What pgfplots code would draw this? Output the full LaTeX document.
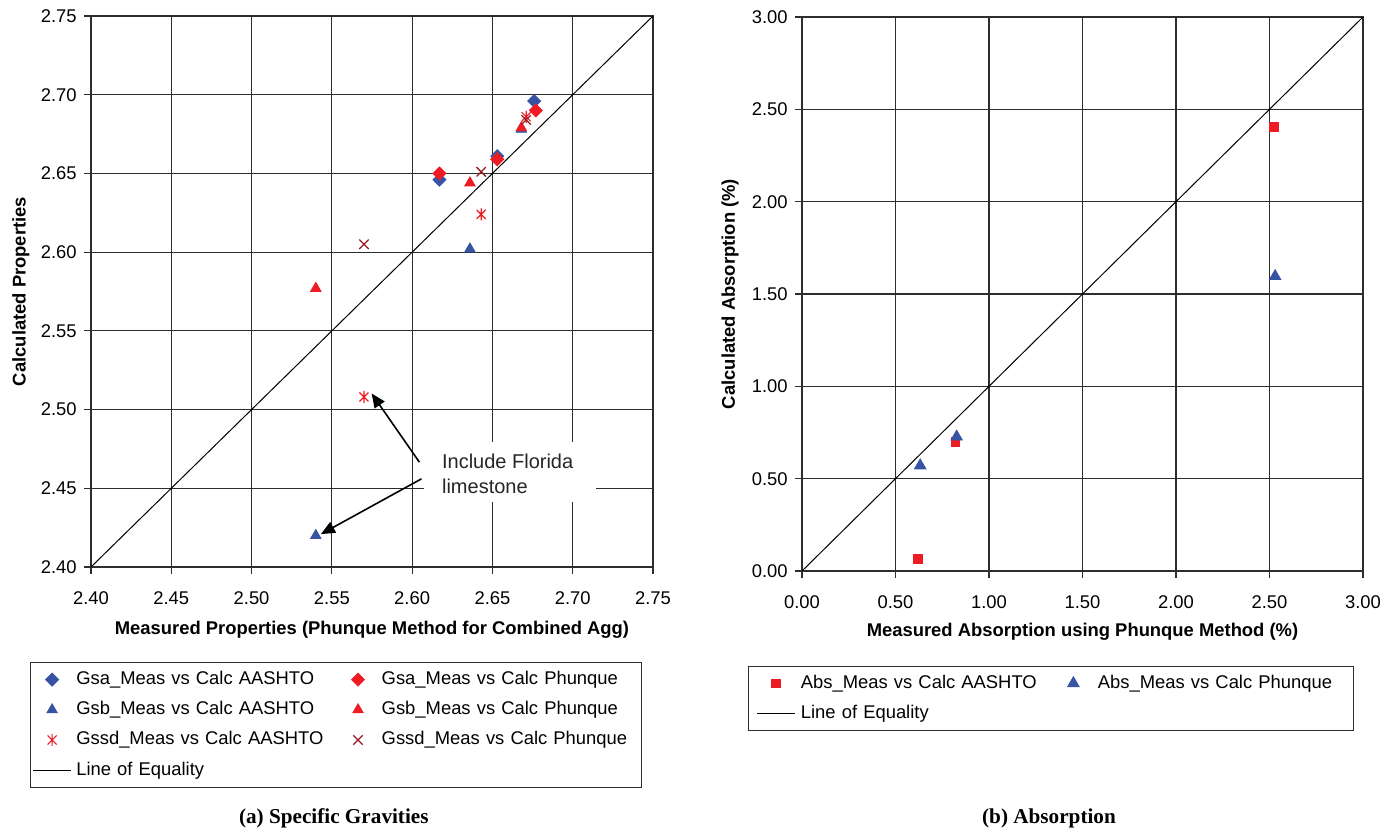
\documentclass[border=0pt]{standalone}
\usepackage{pgfplots}
\pgfplotsset{compat=1.18}
\usepackage{fontspec}
\setmainfont{Liberation Sans}
\newfontfamily\capfont{Liberation Serif}
\usetikzlibrary{arrows.meta}
\definecolor{xblue}{RGB}{57,83,164}
\definecolor{xred}{RGB}{237,28,36}
\definecolor{xdred}{RGB}{150,25,30}
\definecolor{gridc}{RGB}{45,45,45}
\pgfdeclareplotmark{xstar}{%
  \pgfpathmoveto{\pgfqpoint{0pt}{-\pgfplotmarksize}}%
  \pgfpathlineto{\pgfqpoint{0pt}{\pgfplotmarksize}}%
  \pgfpathmoveto{\pgfqpoint{-0.75\pgfplotmarksize}{-0.75\pgfplotmarksize}}%
  \pgfpathlineto{\pgfqpoint{0.75\pgfplotmarksize}{0.75\pgfplotmarksize}}%
  \pgfpathmoveto{\pgfqpoint{-0.75\pgfplotmarksize}{0.75\pgfplotmarksize}}%
  \pgfpathlineto{\pgfqpoint{0.75\pgfplotmarksize}{-0.75\pgfplotmarksize}}%
  \pgfusepathqstroke}
\pgfplotsset{
  excel/.style={
    scale only axis,
    anchor=south west,
    axis line style={gridc, line width=0.6pt},
    grid=major,
    major grid style={gridc, line width=0.6pt},
    tick align=outside,
    xtick pos=left, ytick pos=left,
    major tick length=3.5pt,
    tick style={gridc, line width=0.6pt},
    tick label style={font=\fontsize{9.2}{11}\selectfont},
    xticklabel style={anchor=north, inner sep=0pt},
    xticklabel shift=8.5pt,
    yticklabel style={anchor=east, inner sep=0pt},
    yticklabel shift=3.5pt,
    label style={font=\bfseries\fontsize{9.2}{11}\selectfont},
    legend columns=2,
    legend cell align=left,
    legend image code/.code={\path[draw=none, fill=none] (0pt,-3pt) rectangle (19pt,3pt);
      \draw[mark repeat=2,mark phase=2,##1] plot coordinates {(0pt,0pt) (9.5pt,0pt) (19pt,0pt)};},
  },
}
\begin{document}
\begin{tikzpicture}
\useasboundingbox (0,0) rectangle (699pt,415.5pt);
% ---------------- (a) Specific Gravities ----------------
\begin{axis}[excel, at={(45.5pt,132pt)}, width=281pt, height=275.5pt,
  xmin=2.4, xmax=2.75, ymin=2.4, ymax=2.75,
  xtick={2.4,2.45,2.5,2.55,2.6,2.65,2.7,2.75},
  xticklabels={2.40,2.45,2.50,2.55,2.60,2.65,2.70,2.75},
  ytick={2.4,2.45,2.5,2.55,2.6,2.65,2.7,2.75},
  yticklabels={2.40,2.45,2.50,2.55,2.60,2.65,2.70,2.75},
  xlabel={Measured Properties (Phunque Method for Combined Agg)},
  ylabel={Calculated Properties},
  xlabel style={at={(axis description cs:0.5,-0.1143)}, anchor=center},
  ylabel style={at={(axis description cs:-0.1246,0.5)}, anchor=center},
  legend style={at={(-0.1085,-0.1724)}, anchor=north west, draw=gridc, line width=0.6pt, fill=white,
    inner xsep=1pt, inner ysep=4pt, row sep=6.1pt, column sep=2.35pt,
    font=\fontsize{9.2}{11}\selectfont,
    nodes={inner sep=0pt, text height=7pt, text depth=2pt, text width=129pt}},
]
\addplot[only marks, mark=square*, mark size=2.3pt, color=xblue, mark options={rotate=45, line width=0.4pt}]
  coordinates {(2.617,2.646) (2.653,2.661) (2.676,2.696)};
\addlegendentry{Gsa\_Meas vs Calc AASHTO}
\addplot[only marks, mark=square*, mark size=2.3pt, color=xred, mark options={rotate=45, line width=0.4pt}]
  coordinates {(2.617,2.650) (2.653,2.659) (2.677,2.690)};
\addlegendentry{Gsa\_Meas vs Calc Phunque}
\addplot[only marks, mark=triangle*, mark size=3pt, color=xblue, mark options={line width=0.4pt}]
  coordinates {(2.540,2.420) (2.636,2.602) (2.668,2.678)};
\addlegendentry{Gsb\_Meas vs Calc AASHTO}
\addplot[only marks, mark=triangle*, mark size=3pt, color=xred, mark options={line width=0.4pt}]
  coordinates {(2.540,2.577) (2.636,2.644) (2.668,2.679)};
\addlegendentry{Gsb\_Meas vs Calc Phunque}
\addplot[only marks, mark=xstar, mark size=3pt, color=xred, mark options={line width=0.6pt}]
  coordinates {(2.570,2.508) (2.643,2.624) (2.671,2.686)};
\addlegendentry{Gssd\_Meas vs Calc AASHTO}
\addplot[only marks, mark=x, mark size=3.3pt, color=xdred, mark options={line width=0.65pt}]
  coordinates {(2.570,2.605) (2.643,2.651) (2.671,2.684)};
\addlegendentry{Gssd\_Meas vs Calc Phunque}
\addplot[black, line width=0.5pt, no marks] coordinates {(2.4,2.4) (2.75,2.75)};
\addlegendentry{Line of Equality}
\fill[white] (axis cs:2.6074,2.4796) rectangle (axis cs:2.7145,2.4415);
\node[anchor=west, inner sep=0pt, align=left, font=\fontsize{10}{12.5}\selectfont, text=black!85]
  at (axis cs:2.6184,2.4589) {Include Florida\\limestone};
\draw[-{Triangle[length=7pt,width=6pt]}, line width=0.8pt] (axis cs:2.6045,2.4666) -- (axis cs:2.5748,2.5102);
\draw[-{Triangle[length=7pt,width=6pt]}, line width=0.8pt] (axis cs:2.6058,2.456) -- (axis cs:2.5432,2.4209);
\end{axis}
% ---------------- (b) Absorption ----------------
\begin{axis}[excel, at={(401pt,130pt)}, width=280.5pt, height=277pt,
  xmin=0, xmax=3, ymin=0, ymax=3,
  xtick={0,0.5,1,1.5,2,2.5,3},
  xticklabels={0.00,0.50,1.00,1.50,2.00,2.50,3.00},
  ytick={0,0.5,1,1.5,2,2.5,3},
  yticklabels={0.00,0.50,1.00,1.50,2.00,2.50,3.00},
  xlabel={Measured Absorption using Phunque Method (\%)},
  ylabel={Calculated Absorption (\%)},
  xlabel style={at={(axis description cs:0.5,-0.110)}, anchor=center},
  ylabel style={at={(axis description cs:-0.1283,0.5)}, anchor=center},
  legend style={at={(-0.09626,-0.1715)}, anchor=north west, draw=gridc, line width=0.6pt, fill=white,
    inner xsep=3.9pt, inner ysep=3.85pt, row sep=6.1pt, column sep=2.75pt,
    font=\fontsize{9.2}{11}\selectfont,
    nodes={inner sep=0pt, text height=7pt, text depth=2pt, text width=124pt}},
]
\addplot[only marks, mark=square*, mark size=2.2pt, color=xred, mark options={line width=0.4pt}]
  coordinates {(0.620,0.066) (0.820,0.700) (2.524,2.404)};
\addlegendentry{Abs\_Meas vs Calc AASHTO}
\addplot[only marks, mark=triangle*, mark size=3.3pt, color=xblue, mark options={line width=0.4pt}]
  coordinates {(0.632,0.571) (0.827,0.727) (2.530,1.596)};
\addlegendentry{Abs\_Meas vs Calc Phunque}
\addplot[black, line width=0.5pt, no marks] coordinates {(0,0) (3,3)};
\addlegendentry{Line of Equality}
\end{axis}
\node[font=\capfont\bfseries\fontsize{10.6}{12}\selectfont] at (166.9pt,6.5pt) {(a) Specific Gravities};
\node[font=\capfont\bfseries\fontsize{10.6}{12}\selectfont] at (524.5pt,6.5pt) {(b) Absorption};
\end{tikzpicture}
\end{document}
